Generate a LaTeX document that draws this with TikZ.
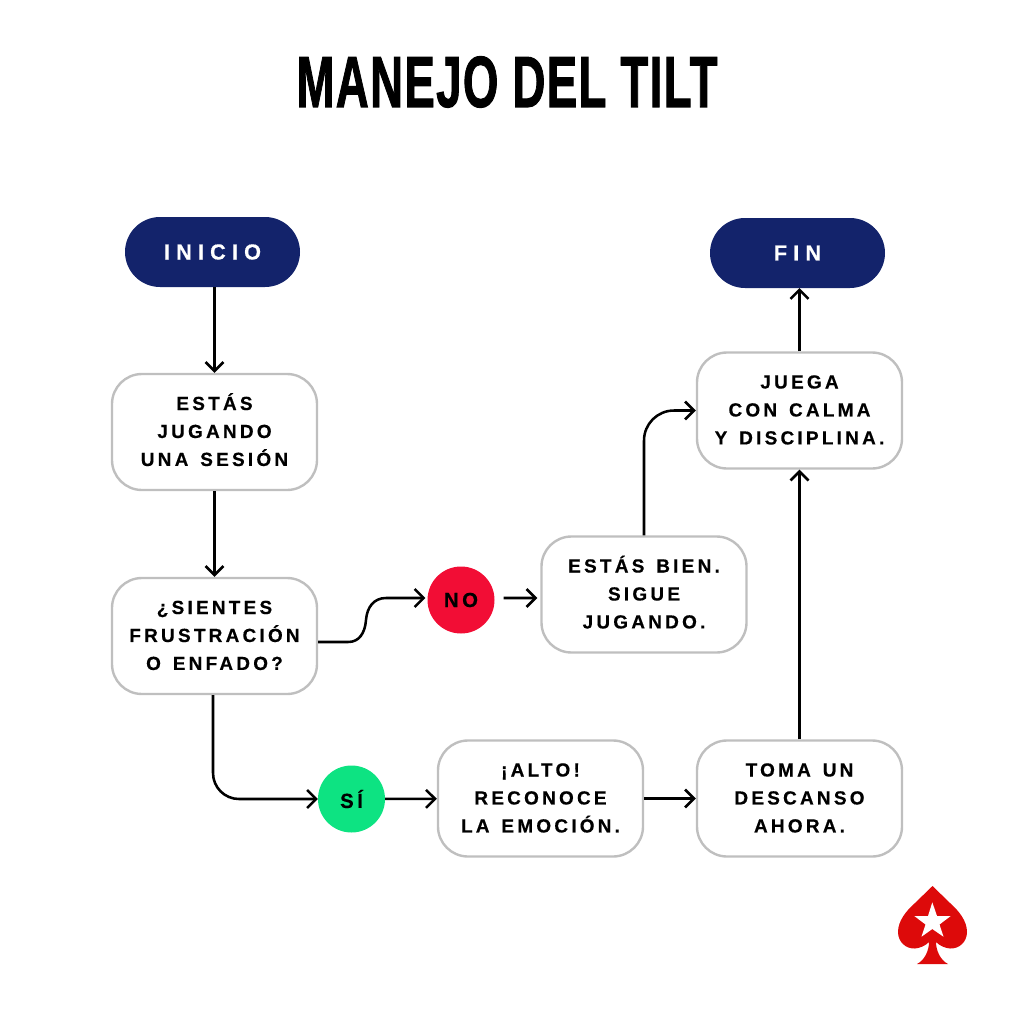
\documentclass[tikz,border=0pt]{standalone}
\usepackage{fontspec}
\setmainfont{Liberation Sans}
\newfontfamily\boxfont{Liberation Sans}[LetterSpace=17,WordSpace=1.4,BoldFeatures={FakeBold=0.4}]
\newfontfamily\pillfont{Liberation Sans}[LetterSpace=28,BoldFeatures={FakeBold=0.4}]
\newfontfamily\titlefont{Liberation Sans}[LetterSpace=3,BoldFeatures={FakeBold=1.6}]
\usetikzlibrary{arrows.meta,calc}
\definecolor{navy}{HTML}{13236B}
\definecolor{alto}{HTML}{F20D35}
\definecolor{sigue}{HTML}{0DE382}
\definecolor{borde}{HTML}{BFBFBF}
\definecolor{pica}{HTML}{DD0A0A}
\tikzset{
	stepbox/.style={draw=borde, line width=3.4pt, fill=white, rounded corners=15mm, minimum width=102.5mm, minimum height=58mm, align=center, inner sep=0pt, text height=102.6pt, text depth=6pt, font=\boxfont\bfseries\fontsize{27}{39.8}\selectfont},
	pill/.style={fill=navy, text=white, rounded corners=17.5mm, minimum width=87.5mm, minimum height=35mm, inner sep=0pt, font=\pillfont\bfseries\fontsize{31}{36}\selectfont},
	answer/.style={circle, minimum size=33.5mm, inner sep=0pt, font=\boxfont\bfseries\fontsize{29}{34}\selectfont},
	flow/.style={-{Straight Barb[length=4.5mm,width=9mm]}, line width=3.6pt, black}
}
\begin{document}
\begin{tikzpicture}[x=0.5mm,y=-0.5mm]
	\useasboundingbox (0,0) rectangle (1014,1014);
	% Title
	\node (titulo) at (507,82) {\scalebox{0.63}[1]{\fontsize{103}{110}\selectfont\titlefont\bfseries MANEJO DEL TILT}};
	% Nodes
	\node[pill] (inicio) at (212.5,252) {INICIO};
	\node[pill] (fin) at (797.5,253) {FIN};
	\node[stepbox] (sesion) at (214.5,432) {ESTÁS\\JUGANDO\\UNA SESIÓN};
	\node[stepbox] (frustra) at (214.5,636) {¿SIENTES\\FRUSTRACIÓN\\O ENFADO?};
	\node[stepbox] (bien) at (644,594.5) {ESTÁS BIEN.\\SIGUE\\JUGANDO.};
	\node[stepbox] (calma) at (799.5,410.5) {JUEGA\\CON CALMA\\Y DISCIPLINA.};
	\node[stepbox] (emocion) at (540.5,798.5) {¡ALTO!\\RECONOCE\\LA EMOCIÓN.};
	\node[stepbox] (descanso) at (799.5,798.5) {TOMA UN\\DESCANSO\\AHORA.};
	\node[answer, fill=alto] (no) at (461,600) {NO};
	\node[answer, fill=sigue] (si) at (351.5,799) {SÍ};
	% Connectors
	\draw[flow] (inicio.south -| sesion.north) -- (sesion.north);
	\draw[flow] (sesion) -- (frustra);
	\draw[flow] ($(frustra.east)+(0,6)$) -- ++(30,0) .. controls ++(11,0) and (365,633) .. (366,620) .. controls (367,607) and (374,598) .. (386,598) -- ($(no.west)+(-2,-2)$);
	\draw[flow] ($(no.east)+(9,-2)$) -- ($(bien.west)+(-3,3.5)$);
	\draw[flow, rounded corners=15mm] (bien.north) |- (calma.west);
	\draw[flow, rounded corners=13mm] ($(frustra.south)+(-1.5,0)$) |- (si.west);
	\draw[flow] (si) -- (emocion);
	\draw[flow] (emocion) -- (descanso);
	\draw[flow] (descanso) -- (calma);
	\draw[flow] (calma.north) -- (calma.north |- fin.south);
	% Logo
	\fill[pica] (932.5,886) -- (915,903) .. controls (906,911) and (898,921) .. (898,932) .. controls (898,942) and (906,949) .. (915,948.5) .. controls (920,948) and (925,946) .. (929,942) .. controls (929,950) and (925,960) .. (917,964) -- (948,964) .. controls (940,960) and (936,950) .. (936,942) .. controls (940,946) and (945,948) .. (950,948.5) .. controls (959,949) and (967,942) .. (967,932) .. controls (967,921) and (959,911) .. (950,903) -- cycle;
	\fill[white] (932.3,902.3) -- (937,916) -- (950.7,916) -- (939.5,924.5) -- (943.5,936.7) -- (932.3,929) -- (921.5,936.7) -- (925.5,924.5) -- (914.3,916) -- (928,916) -- cycle;
\end{tikzpicture}
\end{document}
